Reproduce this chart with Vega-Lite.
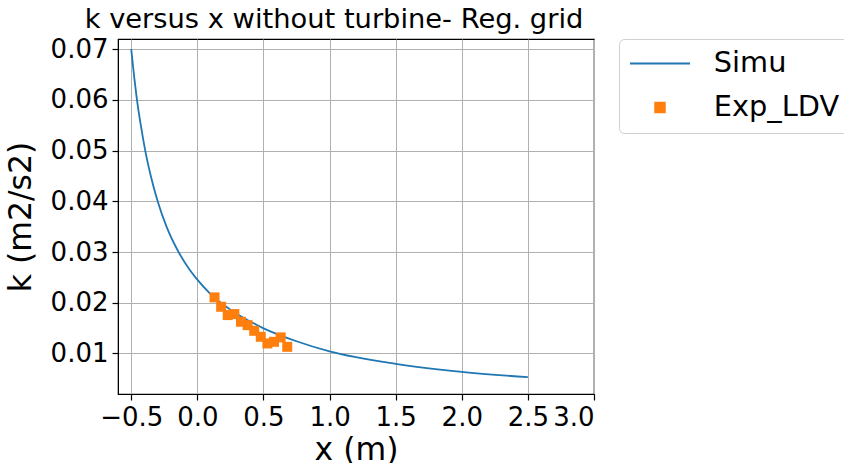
{
  "$schema": "https://vega.github.io/schema/vega-lite/v6.json",
  "autosize": "none",
  "width": 476,
  "height": 355,
  "padding": {"left": 118, "top": 39, "right": 250, "bottom": 69},
  "background": "white",
  "config": {
    "font": "DejaVu Sans",
    "view": {"stroke": "black", "strokeWidth": 1.2},
    "axis": {
      "labelFont": "DejaVu Sans",
      "titleFont": "DejaVu Sans",
      "labelFontSize": 26,
      "titleFontSize": 31.5,
      "titleFontWeight": "normal",
      "labelColor": "black",
      "titleColor": "black",
      "gridColor": "#b0b0b0",
      "gridWidth": 1,
      "gridOpacity": 1,
      "domainColor": "black",
      "tickColor": "black",
      "tickSize": 6,
      "tickWidth": 1.2,
      "labelPadding": 4
    }
  },
  "title": {
    "text": "k versus x without turbine- Reg. grid",
    "font": "DejaVu Sans",
    "fontSize": 27.3,
    "fontWeight": "normal",
    "color": "black",
    "anchor": "middle",
    "dx": -22,
    "offset": 3
  },
  "datasets": {
    "simu": [
      {"x": -0.5, "k": 0.07, "series": "Simu"},
      {"x": -0.477, "k": 0.0644, "series": "Simu"},
      {"x": -0.458, "k": 0.0603, "series": "Simu"},
      {"x": -0.427, "k": 0.0549, "series": "Simu"},
      {"x": -0.394, "k": 0.05, "series": "Simu"},
      {"x": -0.351, "k": 0.0449, "series": "Simu"},
      {"x": -0.30, "k": 0.0400, "series": "Simu"},
      {"x": -0.233, "k": 0.0350, "series": "Simu"},
      {"x": -0.142, "k": 0.0300, "series": "Simu"},
      {"x": -0.058, "k": 0.0265, "series": "Simu"},
      {"x": -0.008, "k": 0.0248, "series": "Simu"},
      {"x": 0.093, "k": 0.0219, "series": "Simu"},
      {"x": 0.245, "k": 0.0187, "series": "Simu"},
      {"x": 0.497, "k": 0.0150, "series": "Simu"},
      {"x": 0.75, "k": 0.0124, "series": "Simu"},
      {"x": 1.0, "k": 0.0104, "series": "Simu"},
      {"x": 1.5, "k": 0.00795, "series": "Simu"},
      {"x": 2.0, "k": 0.00637, "series": "Simu"},
      {"x": 2.5, "k": 0.00532, "series": "Simu"}
    ],
    "exp": [
      {"x": 0.13, "k": 0.02105, "series": "Exp_LDV"},
      {"x": 0.18, "k": 0.0192, "series": "Exp_LDV"},
      {"x": 0.23, "k": 0.01756, "series": "Exp_LDV"},
      {"x": 0.28, "k": 0.01776, "series": "Exp_LDV"},
      {"x": 0.33, "k": 0.01624, "series": "Exp_LDV"},
      {"x": 0.38, "k": 0.01558, "series": "Exp_LDV"},
      {"x": 0.43, "k": 0.01446, "series": "Exp_LDV"},
      {"x": 0.48, "k": 0.01328, "series": "Exp_LDV"},
      {"x": 0.53, "k": 0.01197, "series": "Exp_LDV"},
      {"x": 0.58, "k": 0.01229, "series": "Exp_LDV"},
      {"x": 0.63, "k": 0.01316, "series": "Exp_LDV"},
      {"x": 0.68, "k": 0.0113, "series": "Exp_LDV"}
    ]
  },
  "layer": [
    {
      "data": {"name": "simu"},
      "mark": {"type": "line", "strokeWidth": 1.8, "interpolate": "monotone", "clip": true},
      "encoding": {
        "x": {
          "field": "x", "type": "quantitative",
          "scale": {"domain": [-0.6, 3.0], "nice": false, "zero": false},
          "axis": {"values": [-0.5, 0, 0.5, 1, 1.5, 2, 2.5, 3], "format": ".1f", "title": "x (m)", "titlePadding": 4}
        },
        "y": {
          "field": "k", "type": "quantitative",
          "scale": {"domain": [0.002, 0.072], "nice": false, "zero": false},
          "axis": {"values": [0.01, 0.02, 0.03, 0.04, 0.05, 0.06, 0.07], "format": ".2f", "title": "k (m2/s2)", "titlePadding": 13}
        },
        "color": {
          "field": "series", "type": "nominal",
          "scale": {"domain": ["Simu", "Exp_LDV"], "range": ["#1f77b4", "#ff7f0e"]},
          "legend": {
            "title": null,
            "orient": "none",
            "legendX": 501,
            "legendY": 0,
            "labelFont": "DejaVu Sans",
            "labelFontSize": 28.8,
            "labelColor": "black",
            "symbolSize": 3600,
            "symbolStrokeWidth": 2,
            "rowPadding": 14,
            "labelOffset": 56,
            "padding": 10,
            "strokeColor": "#d0d0d0",
            "cornerRadius": 5,
            "fillColor": "white",
            "encode": {
              "symbols": {
                "update": {
                  "x": {"value": 31},
                  "shape": {"signal": "datum.value === 'Simu' ? 'stroke' : 'square'"},
                  "size": {"signal": "datum.value === 'Simu' ? 3600 : 90"},
                  "fill": {"signal": "datum.value === 'Simu' ? 'transparent' : '#ff7f0e'"},
                  "stroke": {"signal": "datum.value === 'Simu' ? '#1f77b4' : 'transparent'"},
                  "strokeWidth": {"value": 2}
                }
              }
            }
          }
        }
      }
    },
    {
      "data": {"name": "exp"},
      "mark": {"type": "point", "shape": "square", "filled": true, "size": 100, "opacity": 1},
      "encoding": {
        "x": {"field": "x", "type": "quantitative"},
        "y": {"field": "k", "type": "quantitative"},
        "color": {"field": "series", "type": "nominal"}
      }
    }
  ]
}
